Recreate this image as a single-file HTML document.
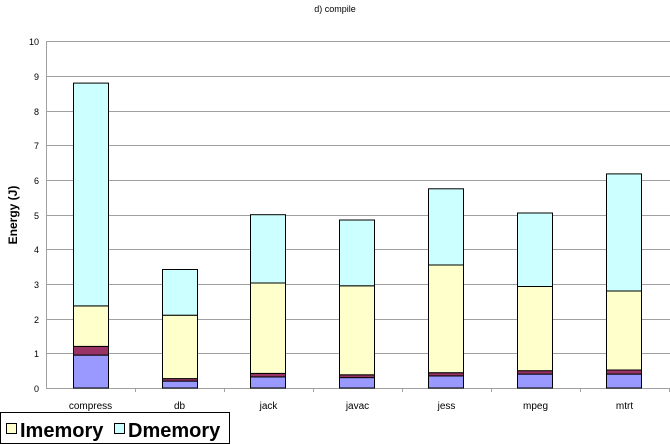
<!DOCTYPE html>
<html><head><style>body{margin:0;background:#fff}svg{display:block}text{font-family:"Liberation Sans",sans-serif}</style></head>
<body>
<svg width="670" height="444" xmlns="http://www.w3.org/2000/svg">
<text x="335" y="12" font-size="9" text-anchor="middle">d) compile</text>
<g stroke="#a0a0a0" stroke-width="1">
<line x1="46" x2="670" y1="41.5" y2="41.5"/><line x1="46" x2="670" y1="76.5" y2="76.5"/><line x1="46" x2="670" y1="111.5" y2="111.5"/><line x1="46" x2="670" y1="145.5" y2="145.5"/><line x1="46" x2="670" y1="180.5" y2="180.5"/><line x1="46" x2="670" y1="215.5" y2="215.5"/><line x1="46" x2="670" y1="249.5" y2="249.5"/><line x1="46" x2="670" y1="284.5" y2="284.5"/><line x1="46" x2="670" y1="319.5" y2="319.5"/><line x1="46" x2="670" y1="353.5" y2="353.5"/>
<line x1="46.5" x2="46.5" y1="41" y2="388"/><line x1="46" x2="670" y1="388.5" y2="388.5"/>
<line x1="135.5" x2="135.5" y1="388" y2="392"/><line x1="224.5" x2="224.5" y1="388" y2="392"/><line x1="313.5" x2="313.5" y1="388" y2="392"/><line x1="402.5" x2="402.5" y1="388" y2="392"/><line x1="491.5" x2="491.5" y1="388" y2="392"/><line x1="580.5" x2="580.5" y1="388" y2="392"/><line x1="669.5" x2="669.5" y1="388" y2="392"/>
</g>
<g font-size="9" text-anchor="end">
<text x="39" y="45">10</text><text x="39" y="80">9</text><text x="39" y="115">8</text><text x="39" y="149">7</text><text x="39" y="184">6</text><text x="39" y="219">5</text><text x="39" y="253">4</text><text x="39" y="288">3</text><text x="39" y="323">2</text><text x="39" y="357">1</text><text x="39" y="392">0</text>
</g>
<text transform="translate(17,215) rotate(-90)" font-size="12" font-weight="bold" text-anchor="middle">Energy (J)</text>
<g stroke="#000" stroke-width="1">
<rect x="73.5" y="355.1" width="35" height="32.9" fill="#9999ff"/>
<rect x="73.5" y="346.4" width="35" height="8.7" fill="#993366"/>
<rect x="73.5" y="305.9" width="35" height="40.5" fill="#ffffcc"/>
<rect x="73.5" y="83.1" width="35" height="222.8" fill="#ccffff"/>

<rect x="162.5" y="381.1" width="35" height="6.9" fill="#9999ff"/>
<rect x="162.5" y="378.6" width="35" height="2.5" fill="#993366"/>
<rect x="162.5" y="315.2" width="35" height="63.4" fill="#ffffcc"/>
<rect x="162.5" y="269.5" width="35" height="45.7" fill="#ccffff"/>

<rect x="250.5" y="376.9" width="35" height="11.1" fill="#9999ff"/>
<rect x="250.5" y="373.4" width="35" height="3.5" fill="#993366"/>
<rect x="250.5" y="283.0" width="35" height="90.4" fill="#ffffcc"/>
<rect x="250.5" y="214.7" width="35" height="68.3" fill="#ccffff"/>

<rect x="339.5" y="377.6" width="35" height="10.4" fill="#9999ff"/>
<rect x="339.5" y="374.8" width="35" height="2.8" fill="#993366"/>
<rect x="339.5" y="285.8" width="35" height="89.0" fill="#ffffcc"/>
<rect x="339.5" y="220.0" width="35" height="65.8" fill="#ccffff"/>

<rect x="428.5" y="375.9" width="35" height="12.1" fill="#9999ff"/>
<rect x="428.5" y="372.7" width="35" height="3.2" fill="#993366"/>
<rect x="428.5" y="265.0" width="35" height="107.7" fill="#ffffcc"/>
<rect x="428.5" y="188.8" width="35" height="76.2" fill="#ccffff"/>

<rect x="517.5" y="374.1" width="35" height="13.9" fill="#9999ff"/>
<rect x="517.5" y="370.7" width="35" height="3.4" fill="#993366"/>
<rect x="517.5" y="286.5" width="35" height="84.2" fill="#ffffcc"/>
<rect x="517.5" y="213.0" width="35" height="73.5" fill="#ccffff"/>

<rect x="606.5" y="374.1" width="35" height="13.9" fill="#9999ff"/>
<rect x="606.5" y="370.0" width="35" height="4.1" fill="#993366"/>
<rect x="606.5" y="291.0" width="35" height="79.0" fill="#ffffcc"/>
<rect x="606.5" y="173.9" width="35" height="117.1" fill="#ccffff"/>
</g>
<g font-size="10" text-anchor="middle">
<text x="90.5" y="409">compress</text><text x="179.5" y="409">db</text><text x="268.5" y="409">jack</text><text x="357.5" y="409">javac</text><text x="446.5" y="409">jess</text><text x="535.5" y="409">mpeg</text><text x="624.5" y="409">mtrt</text>
</g>
<rect x="0.5" y="412.5" width="229" height="31" fill="#fff" stroke="#000"/>
<rect x="6.5" y="423.5" width="10" height="10" fill="#ffffcc" stroke="#000"/>
<text x="20" y="437" font-size="20" font-weight="bold">Imemory</text>
<rect x="114.5" y="423.5" width="10" height="10" fill="#ccffff" stroke="#000"/>
<text x="128" y="437" font-size="20" font-weight="bold">Dmemory</text>
</svg>
</body></html>
